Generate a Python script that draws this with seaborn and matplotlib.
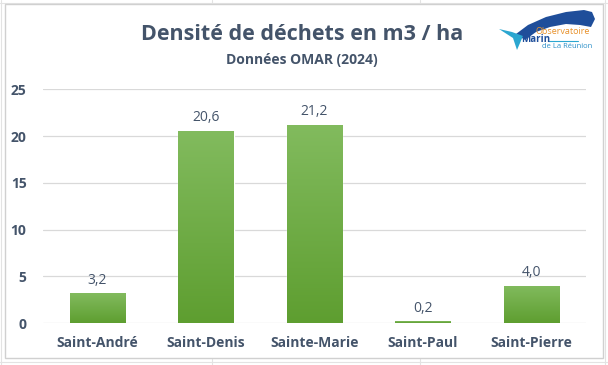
import numpy as np
import pandas as pd
import matplotlib
matplotlib.use("Agg")
import matplotlib.pyplot as plt
import seaborn as sns
from matplotlib.patches import Rectangle, Polygon
from matplotlib.colors import LinearSegmentedColormap

communes = ["Saint-André", "Saint-Denis", "Sainte-Marie", "Saint-Paul", "Saint-Pierre"]
densite = [3.2, 20.6, 21.2, 0.2, 4.0]
yticks = [0, 5, 10, 15, 20, 25]
title = "Densité de déchets en m3 / ha"
subtitle = "Données OMAR (2024)"

sns.set_theme(style="white")
plt.rcParams['font.family'] = ['Open Sans', 'DejaVu Sans']
txt = "#44546A"

W, H = 608, 365
fig = plt.figure(figsize=(6.08, 3.65), dpi=100)
fig.patch.set_facecolor("white")

def px(x, y):
    return (x / W, 1 - y / H)

# spreadsheet cell lines behind the chart
for x in [1, 212, 420, 605]:
    fig.add_artist(plt.Line2D([x / W, x / W], [0, 1], color="#E3E3E3", lw=0.8, zorder=0))
for y in [3, 362]:
    fig.add_artist(plt.Line2D([0, 1], [1 - y / H, 1 - y / H], color="#E3E3E3", lw=0.8, zorder=0))
fig.add_artist(Rectangle((5 / W, 1 - 358 / H), 598 / W, 354 / H, transform=fig.transFigure,
                         facecolor="white", edgecolor="#D0D0D0", lw=1.0, zorder=1))

ax = fig.add_axes([0.071, 0.115, 0.892, 0.64])
ax.set_zorder(2)
df = pd.DataFrame({"commune": communes, "densite": densite})
sns.barplot(data=df, x="commune", y="densite", ax=ax, color="#6AAA43", width=0.51,
            saturation=1)

ax.set_ylim(0, 25)
ax.set_yticks(yticks)
ax.set_yticklabels([str(v) for v in yticks])
ax.yaxis.grid(True, color="#D9D9D9", lw=0.9)
ax.set_axisbelow(True)
for s in ax.spines.values():
    s.set_visible(False)
ax.set_xlabel("")
ax.set_ylabel("")
ax.tick_params(axis="both", length=0, colors=txt, labelsize=10)
ax.tick_params(axis="y", pad=12)
ax.tick_params(axis="x", pad=9)
for lab in ax.get_xticklabels() + ax.get_yticklabels():
    lab.set_fontweight("bold")
    lab.set_color(txt)
ax.set_facecolor("none")

# gradient fill for bars
grad = np.linspace(0, 1, 256).reshape(-1, 1)
cmap = LinearSegmentedColormap.from_list("g", ["#5E9E30", "#82BB5E"])
for p in ax.patches:
    x0, w, h = p.get_x(), p.get_width(), p.get_height()
    im = ax.imshow(grad, cmap=cmap, extent=[x0, x0 + w, 0, h], origin="lower",
                   aspect="auto", zorder=p.get_zorder() + 0.1)
    im.set_clip_path(p)
ax.set_xlim(-0.5, 4.5)
ax.set_ylim(0, 25)

for i, v in enumerate(densite):
    ax.annotate(f"{v:.1f}".replace(".", ","), (i, v), xytext=(0, 4),
                textcoords="offset points", ha="center", va="bottom",
                fontsize=10, color=txt)

fig.text(0.497, 0.905, title, ha="center", va="center", fontsize=15.5,
         fontweight="bold", color=txt)
fig.text(0.497, 0.835, subtitle, ha="center", va="center", fontsize=10,
         fontweight="bold", color=txt)

# simple logo (decoration)
body = [px(516, 34), px(528, 25), px(546, 17), px(566, 12), px(584, 10), px(592, 12),
        px(595, 19), px(591, 27), px(580, 25), px(566, 24), px(550, 27), px(536, 32),
        px(525, 40)]
fig.add_artist(Polygon(body, closed=True, transform=fig.transFigure,
                       facecolor="#1F4E9A", edgecolor="none", zorder=3))
tail = [px(499, 29), px(512, 32), px(523, 36), px(517, 50), px(513, 38)]
fig.add_artist(Polygon(tail, closed=True, transform=fig.transFigure,
                       facecolor="#2BA6D0", edgecolor="none", zorder=3))
fig.text(*px(563, 32), "Observatoire", ha="center", va="center", fontsize=6.5,
         color="#E8912A", zorder=4)
fig.text(*px(536, 40), "Marin", ha="center", va="center", fontsize=7,
         fontweight="bold", color="#1F4E9A", zorder=4)
fig.text(*px(567, 46), "de La Réunion", ha="center", va="center", fontsize=5.5,
         color="#2B8FC8", zorder=4)
fig.add_artist(plt.Line2D([px(548, 0)[0], px(578, 0)[0]], [px(0, 41)[1], px(0, 41)[1]],
                          color="#2BA6D0", lw=0.8, zorder=4))

fig.savefig("out.png", dpi=100)
